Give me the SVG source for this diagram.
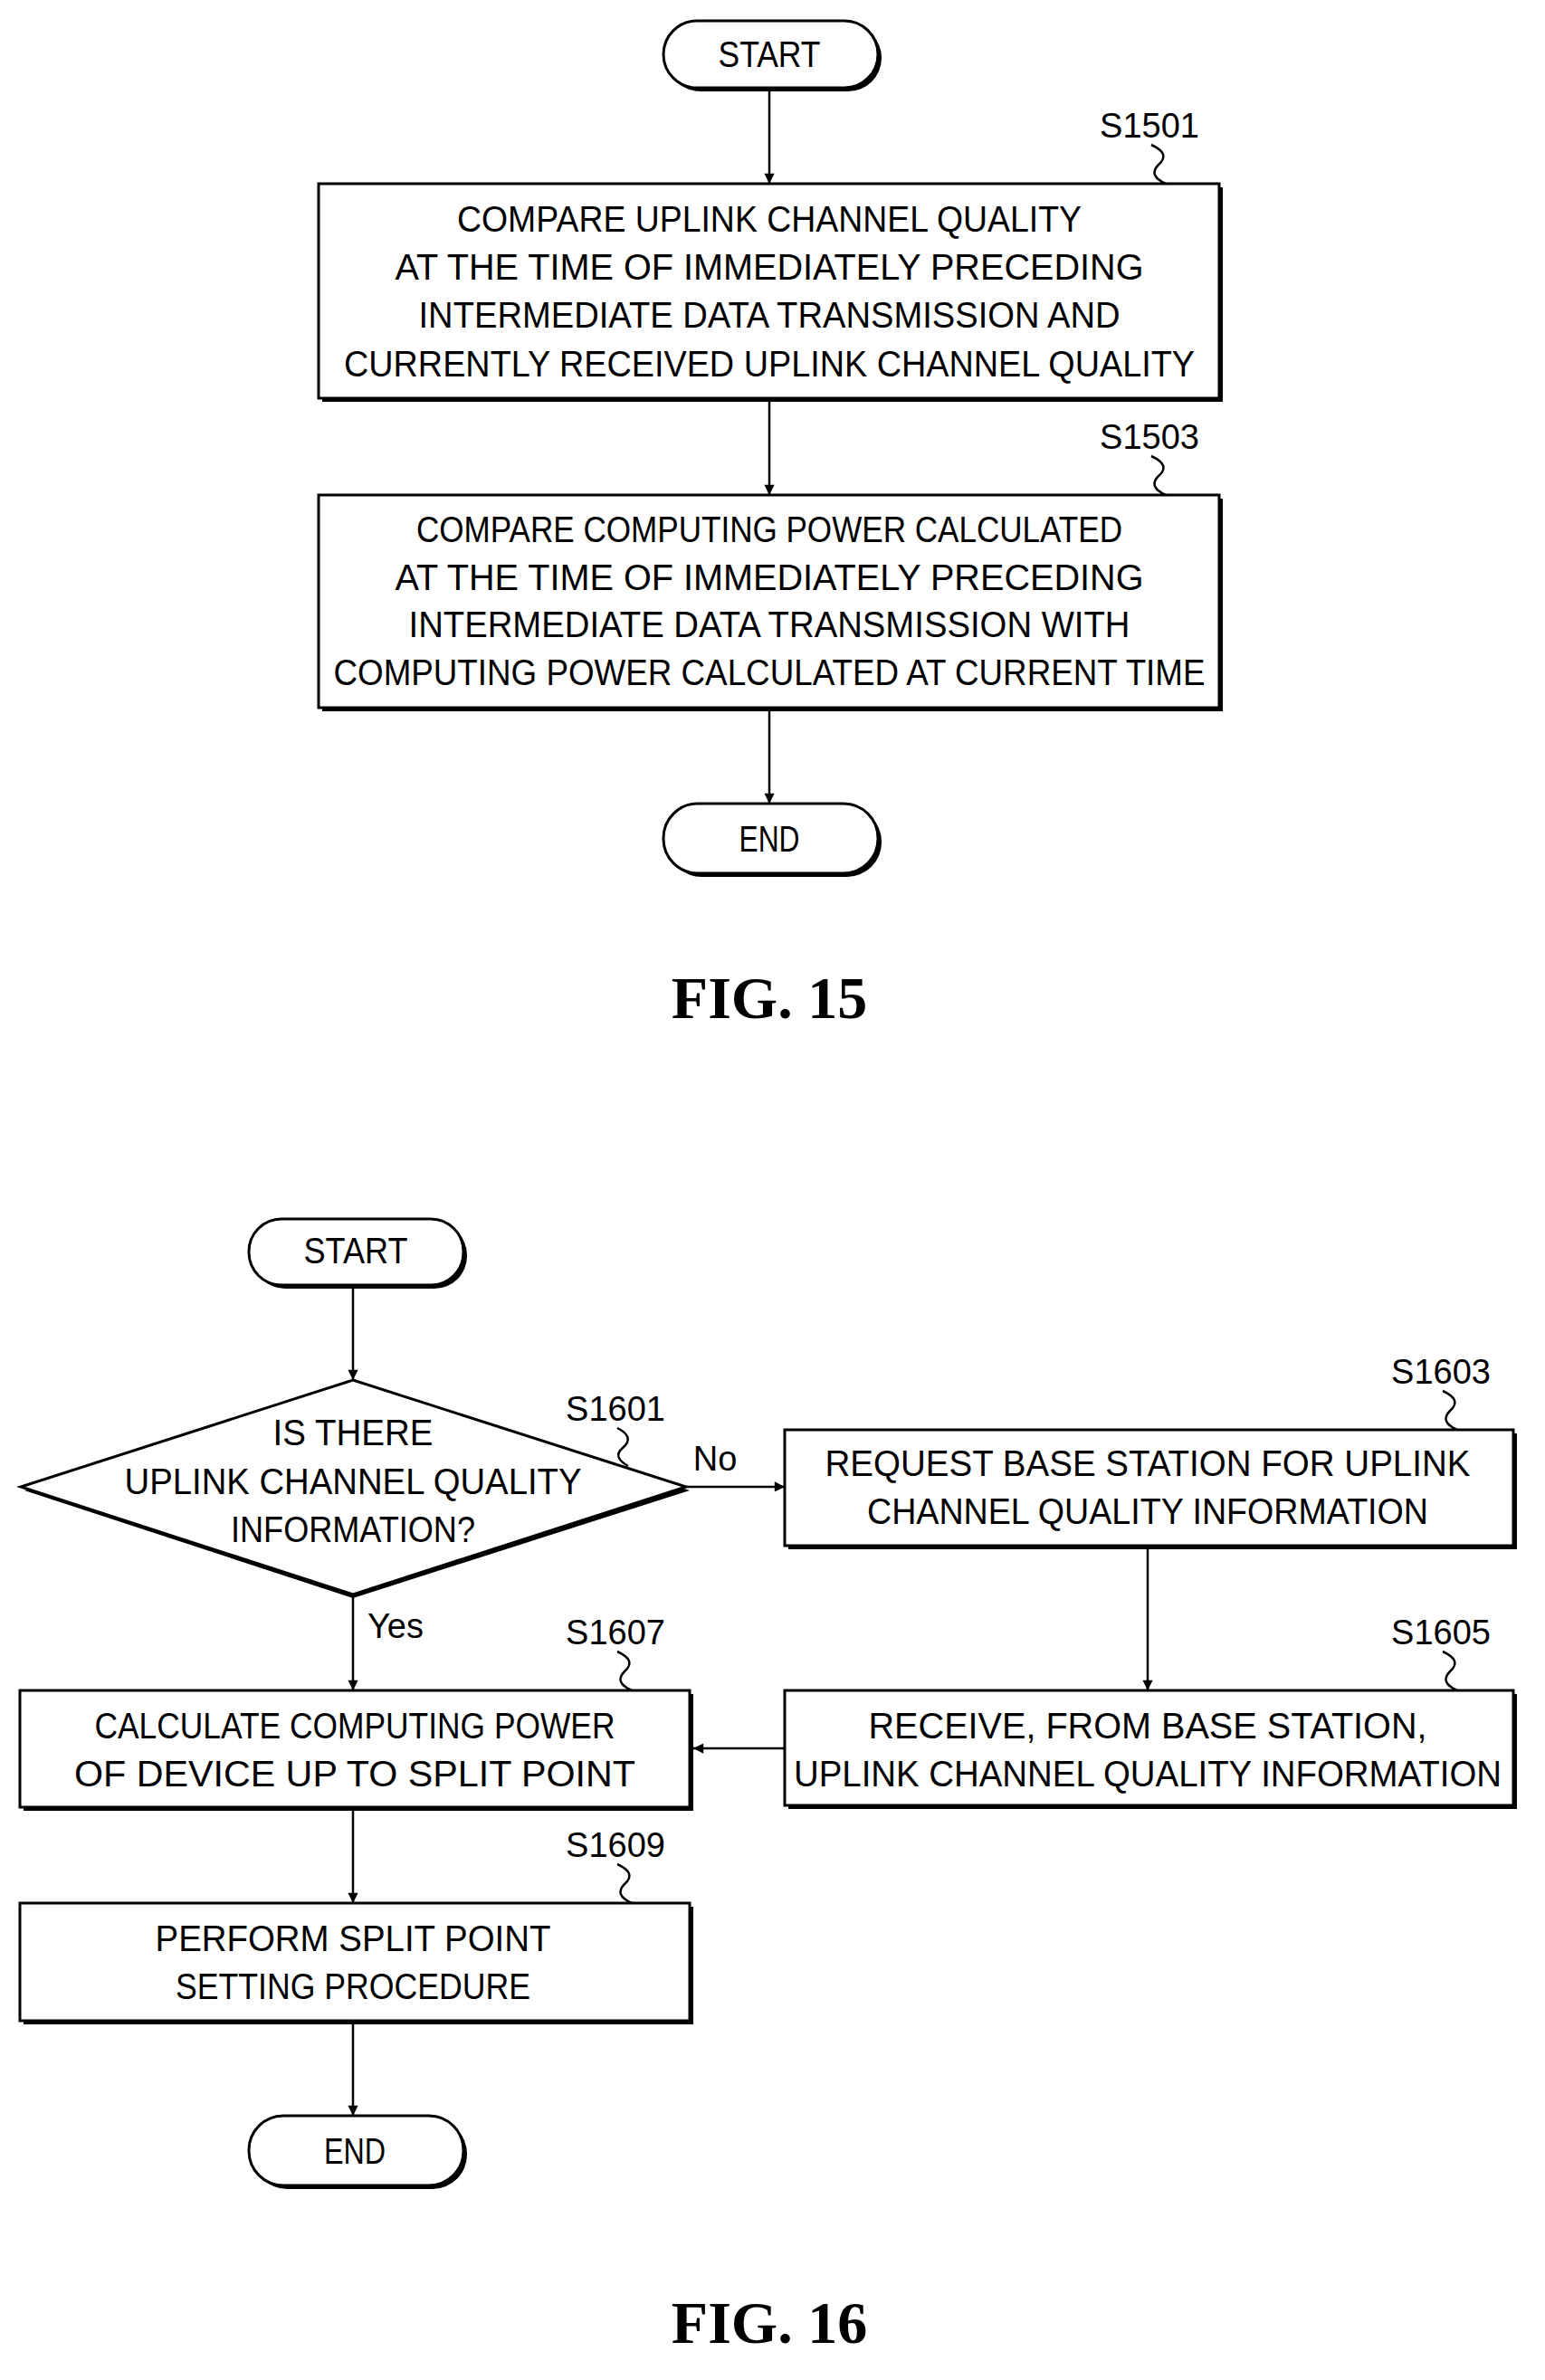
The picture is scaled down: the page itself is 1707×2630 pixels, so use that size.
<svg xmlns="http://www.w3.org/2000/svg" width="1707" height="2630" viewBox="0 0 1707 2630">
<style>
.b{fill:#fff;stroke:#000;stroke-width:3}
.s{fill:#000}
.t{font-family:"Liberation Sans",Arial,sans-serif;font-size:40px;text-anchor:middle;fill:#000}
.l{font-family:"Liberation Sans",Arial,sans-serif;font-size:38px;text-anchor:middle;fill:#000}
.f{font-family:"Liberation Serif","Times New Roman",serif;font-size:66px;font-weight:bold;text-anchor:middle;fill:#000}
.c{stroke:#000;stroke-width:2.5;fill:none}
</style>
<defs>
<marker id="a" viewBox="0 0 10 10" refX="10" refY="5" markerWidth="7" markerHeight="7" orient="auto" markerUnits="userSpaceOnUse" style="overflow:visible"><path d="M0,0 L10,5 L0,10 z" fill="#000" transform="scale(1.6) translate(-3.75,-1.9)"/></marker>
</defs>
<g id="connectors">
<path class="c" marker-end="url(#a)" d="M850,97 V203"/>
<path class="c" marker-end="url(#a)" d="M850,440 V547"/>
<path class="c" marker-end="url(#a)" d="M850,782 V888"/>
<path class="c" marker-end="url(#a)" d="M390,1420 V1525"/>
<path class="c" marker-end="url(#a)" d="M758,1643 H867"/>
<path class="c" marker-end="url(#a)" d="M1268,1708 V1868"/>
<path class="c" marker-end="url(#a)" d="M867,1932 H766"/>
<path class="c" marker-end="url(#a)" d="M390,1762 V1868"/>
<path class="c" marker-end="url(#a)" d="M390,1997 V2103"/>
<path class="c" marker-end="url(#a)" d="M390,2233 V2338"/>
<path class="c" d="M1272,160 q22,10 8,22 q-12,12 8,21"/>
<path class="c" d="M1272,504 q22,10 8,22 q-12,12 8,21"/>
<path class="c" d="M682,1578 q20,10 6,22 q-12,10 6,20"/>
<path class="c" d="M1594,1537 q22,10 8,22 q-12,12 8,21"/>
<path class="c" d="M1594,1825 q22,10 8,22 q-12,12 8,21"/>
<path class="c" d="M682,1825 q22,10 8,22 q-12,12 8,21"/>
<path class="c" d="M682,2060 q22,10 8,22 q-12,12 8,21"/>
</g>
<g id="start15"><rect class="s" x="737" y="27" width="237" height="74" rx="37"/><rect class="b" x="733" y="23" width="237" height="74" rx="37"/><text class="t" x="850" y="74" textLength="113" lengthAdjust="spacingAndGlyphs">START</text></g>
<g id="s1501"><rect class="s" x="356" y="207" width="995" height="237"/><rect class="b" x="352" y="203" width="995" height="237"/>
<text class="t" x="850" y="256" textLength="690" lengthAdjust="spacingAndGlyphs">COMPARE UPLINK CHANNEL QUALITY</text>
<text class="t" x="850" y="309" textLength="827" lengthAdjust="spacingAndGlyphs">AT THE TIME OF IMMEDIATELY PRECEDING</text>
<text class="t" x="850" y="362" textLength="775" lengthAdjust="spacingAndGlyphs">INTERMEDIATE DATA TRANSMISSION AND</text>
<text class="t" x="850" y="416" textLength="940" lengthAdjust="spacingAndGlyphs">CURRENTLY RECEIVED UPLINK CHANNEL QUALITY</text>
<text class="l" x="1270" y="152">S1501</text></g>
<g id="s1503"><rect class="s" x="356" y="551" width="995" height="235"/><rect class="b" x="352" y="547" width="995" height="235"/>
<text class="t" x="850" y="599" textLength="780" lengthAdjust="spacingAndGlyphs">COMPARE COMPUTING POWER CALCULATED</text>
<text class="t" x="850" y="652" textLength="827" lengthAdjust="spacingAndGlyphs">AT THE TIME OF IMMEDIATELY PRECEDING</text>
<text class="t" x="850" y="704" textLength="797" lengthAdjust="spacingAndGlyphs">INTERMEDIATE DATA TRANSMISSION WITH</text>
<text class="t" x="850" y="757" textLength="963" lengthAdjust="spacingAndGlyphs">COMPUTING POWER CALCULATED AT CURRENT TIME</text>
<text class="l" x="1270" y="496">S1503</text></g>
<g id="end15"><rect class="s" x="737" y="892" width="237" height="77" rx="38"/><rect class="b" x="733" y="888" width="237" height="77" rx="38"/><text class="t" x="850" y="941" textLength="67" lengthAdjust="spacingAndGlyphs">END</text></g>
<text class="f" x="850" y="1125">FIG. 15</text>
<g id="start16"><rect class="s" x="279" y="1351" width="237" height="73" rx="36"/><rect class="b" x="275" y="1347" width="237" height="73" rx="36"/><text class="t" x="393" y="1396" textLength="115" lengthAdjust="spacingAndGlyphs">START</text></g>
<g id="s1601"><polygon class="s" points="390,1529 762,1647 390,1766 27,1647"/><polygon class="b" points="390,1525 758,1643 390,1762 23,1643"/>
<text class="t" x="390" y="1597" textLength="177" lengthAdjust="spacingAndGlyphs">IS THERE</text>
<text class="t" x="390" y="1651" textLength="505" lengthAdjust="spacingAndGlyphs">UPLINK CHANNEL QUALITY</text>
<text class="t" x="390" y="1704" textLength="270" lengthAdjust="spacingAndGlyphs">INFORMATION?</text>
<text class="l" x="680" y="1570">S1601</text>
<text class="l" x="790" y="1625">No</text>
<text class="l" x="437" y="1810">Yes</text></g>
<g id="s1603"><rect class="s" x="871" y="1584" width="805" height="128"/><rect class="b" x="867" y="1580" width="805" height="128"/>
<text class="t" x="1268" y="1631" textLength="713" lengthAdjust="spacingAndGlyphs">REQUEST BASE STATION FOR UPLINK</text>
<text class="t" x="1268" y="1684" textLength="620" lengthAdjust="spacingAndGlyphs">CHANNEL QUALITY INFORMATION</text>
<text class="l" x="1592" y="1529">S1603</text></g>
<g id="s1605"><rect class="s" x="871" y="1872" width="805" height="127"/><rect class="b" x="867" y="1868" width="805" height="127"/>
<text class="t" x="1268" y="1921" textLength="617" lengthAdjust="spacingAndGlyphs">RECEIVE, FROM BASE STATION,</text>
<text class="t" x="1268" y="1974" textLength="782" lengthAdjust="spacingAndGlyphs">UPLINK CHANNEL QUALITY INFORMATION</text>
<text class="l" x="1592" y="1817">S1605</text></g>
<g id="s1607"><rect class="s" x="26" y="1872" width="740" height="129"/><rect class="b" x="22" y="1868" width="740" height="129"/>
<text class="t" x="392" y="1921" textLength="575" lengthAdjust="spacingAndGlyphs">CALCULATE COMPUTING POWER</text>
<text class="t" x="392" y="1974" textLength="620" lengthAdjust="spacingAndGlyphs">OF DEVICE UP TO SPLIT POINT</text>
<text class="l" x="680" y="1817">S1607</text></g>
<g id="s1609"><rect class="s" x="26" y="2107" width="740" height="130"/><rect class="b" x="22" y="2103" width="740" height="130"/>
<text class="t" x="390" y="2156" textLength="437" lengthAdjust="spacingAndGlyphs">PERFORM SPLIT POINT</text>
<text class="t" x="390" y="2209" textLength="392" lengthAdjust="spacingAndGlyphs">SETTING PROCEDURE</text>
<text class="l" x="680" y="2052">S1609</text></g>
<g id="end16"><rect class="s" x="279" y="2342" width="237" height="77" rx="38"/><rect class="b" x="275" y="2338" width="237" height="77" rx="38"/><text class="t" x="392" y="2391" textLength="68" lengthAdjust="spacingAndGlyphs">END</text></g>
<text class="f" x="850" y="2589">FIG. 16</text>
</svg>
